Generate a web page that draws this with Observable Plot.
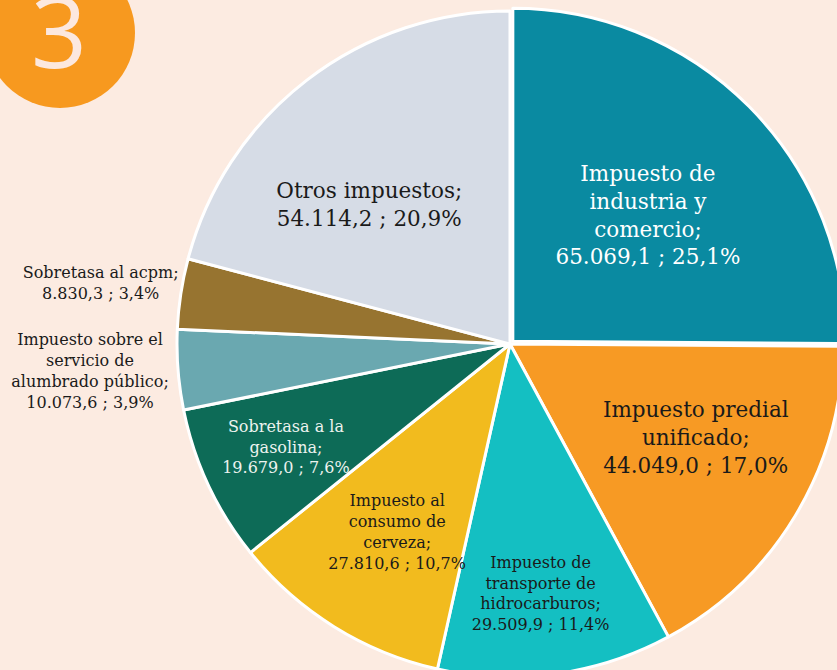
<!DOCTYPE html>
<html>
<head>
<meta charset="utf-8">
<script src="https://cdn.jsdelivr.net/npm/d3@7"></script>
<script src="https://cdn.jsdelivr.net/npm/@observablehq/plot@0.6"></script>
<style>
  html, body { margin: 0; padding: 0; background: #fcebe1; }
  #wrap { position: relative; width: 837px; height: 670px; overflow: hidden; background: #fcebe1; }
  #badge { position: absolute; left: -15px; top: -42px; width: 150px; height: 150px; border-radius: 50%; background: #f7991f; }
  #badge span { position: absolute; left: 0; width: 148px; top: 23px; text-align: center; font-family: "Open Sans", sans-serif; font-weight: 400; font-size: 98px; line-height: 98px; color: #fce8df; }
  #chart { position: absolute; left: 0; top: 0; }
</style>
</head>
<body>
<div id="wrap">
  <div id="chart"></div>
  <div id="badge"><span>3</span></div>
</div>
<script>
// ---- data ----
const categories = [
  "Impuesto de industria y comercio",
  "Impuesto predial unificado",
  "Impuesto de transporte de hidrocarburos",
  "Impuesto al consumo de cerveza",
  "Sobretasa a la gasolina",
  "Impuesto sobre el servicio de alumbrado público",
  "Sobretasa al acpm",
  "Otros impuestos"
];
const values = [65069.1, 44049.0, 29509.9, 27810.6, 19679.0, 10073.6, 8830.3, 54114.2];
const valueText = ["65.069,1", "44.049,0", "29.509,9", "27.810,6", "19.679,0", "10.073,6", "8.830,3", "54.114,2"];
const percentText = ["25,1%", "17,0%", "11,4%", "10,7%", "7,6%", "3,9%", "3,4%", "20,9%"];
const nameLines = [
  ["Impuesto de", "industria y", "comercio;"],
  ["Impuesto predial", "unificado;"],
  ["Impuesto de", "transporte de", "hidrocarburos;"],
  ["Impuesto al", "consumo de", "cerveza;"],
  ["Sobretasa a la", "gasolina;"],
  ["Impuesto sobre el", "servicio de", "alumbrado público;"],
  ["Sobretasa al acpm;"],
  ["Otros impuestos;"]
];

// ---- styles / layout ----
const colors = ["#0a8aa1", "#f79a24", "#14bfc2", "#f2bb1e", "#0d6b57", "#6aa8b0", "#977430", "#d6dce6"];
const textColors = ["#ffffff", "#1a1a1a", "#1a1a1a", "#1a1a1a", "#eef3ef", "#1a1a1a", "#1a1a1a", "#1a1a1a"];
const isBig = [true, true, false, false, false, false, false, true];
const labelRadius = [0.57, 0.62, 0.75, 0.655, 0.74, 1.265, 1.245, 0.6];
const labelShiftDeg = [1.2, -4.8, 1, -0.6, 0.8, 1, 0, -7.4];
const explode = [4, 0, 0, 0, 0, 0, 0, 0];

const W = 837, H = 670, CX = 510, CY = 344, R = 333;

const arcs = d3.pie().sort(null).value(d => d)(values);

const labels = arcs.map((a, i) => {
  const m = (a.startAngle + a.endAngle) / 2 + labelShiftDeg[i] * Math.PI / 180;
  const f = labelRadius[i];
  return {
    category: categories[i],
    x: f * Math.sin(m),
    y: f * Math.cos(m),
    text: nameLines[i].join("\n") + "\n" + valueText[i] + " ; " + percentText[i],
    fill: textColors[i],
    big: isBig[i]
  };
});

function pieMark(index, scales, channels, dimensions, context) {
  const cx = scales.x(0), cy = scales.y(0);
  const r = scales.x(1) - scales.x(0);
  const arc = d3.arc().innerRadius(0).outerRadius(r);
  const g = d3.create("svg:g").attr("aria-label", "pie");
  g.selectAll("path")
    .data(arcs)
    .join("path")
    .attr("transform", (d, i) => {
      const m = (d.startAngle + d.endAngle) / 2;
      const o = explode[i];
      return `translate(${cx + o * Math.sin(m)},${cy - o * Math.cos(m)})`;
    })
    .attr("d", arc)
    .attr("fill", (d, i) => colors[i])
    .attr("stroke", "#ffffff")
    .attr("stroke-width", 3)
    .attr("stroke-linejoin", "round");
  return g.node();
}

const plot = Plot.plot({
  width: W,
  height: H,
  margin: 0,
  style: { background: "#fcebe1", overflow: "visible" },
  x: { domain: [-CX / R, (W - CX) / R], axis: null },
  y: { domain: [(CY - H) / R, CY / R], axis: null },
  color: { type: "identity" },
  marks: [
    pieMark,
    Plot.text(labels.filter(d => d.big), {
      x: "x", y: "y", text: "text", fill: "fill",
      fontSize: 21.5, lineHeight: 1.3, fontFamily: "DejaVu Serif",
      textAnchor: "middle", lineAnchor: "middle", ariaLabel: "big-labels"
    }),
    Plot.text(labels.filter(d => !d.big), {
      x: "x", y: "y", text: "text", fill: "fill",
      fontSize: 16, lineHeight: 1.3, fontFamily: "DejaVu Serif",
      textAnchor: "middle", lineAnchor: "middle", ariaLabel: "small-labels"
    })
  ]
});

d3.select(plot).selectAll('g[aria-label="small-labels"]').style("letter-spacing", "1px");
document.getElementById("chart").appendChild(plot);
</script>
</body>
</html>
